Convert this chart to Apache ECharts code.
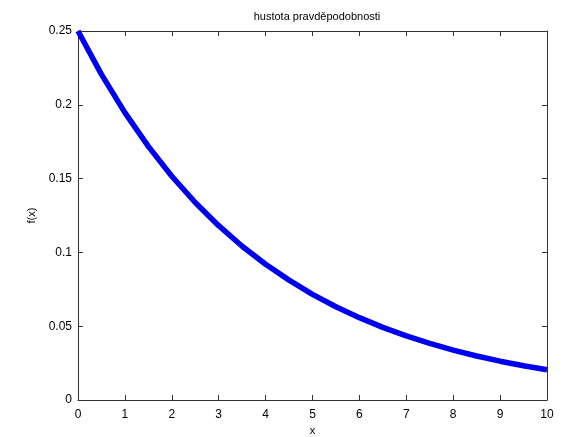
<!DOCTYPE html>
<html><head><meta charset="utf-8">
<script src="https://cdn.jsdelivr.net/npm/echarts@6/dist/echarts.min.js"></script>
<style>html,body{margin:0;padding:0;background:#fff}#c{width:562px;height:437px}</style>
</head><body><div id="c"></div>
<script>
var xValues = [0, 0.5, 1, 1.5, 2, 2.5, 3, 3.5, 4, 4.5, 5, 5.5, 6, 6.5, 7, 7.5, 8, 8.5, 9, 9.5, 10];
var fValues = [0.250, 0.2206, 0.1947, 0.1718, 0.1516, 0.1338, 0.1181, 0.1042, 0.0920, 0.0812, 0.0716, 0.0632, 0.0558, 0.0492, 0.0434, 0.0383, 0.0338, 0.0298, 0.0263, 0.0232, 0.0205];
var titleText = 'hustota pravděpodobnosti';
var xName = 'x', yName = 'f(x)';

var chart = echarts.init(document.getElementById('c'), null, {renderer: 'canvas'});
var font = 'Liberation Sans';
var axisLine = {show: true, onZero: false, lineStyle: {color: '#333', width: 1}};
var axisTick = {show: true, inside: true, length: 5, lineStyle: {color: '#333'}};
chart.setOption({
  animation: false,
  backgroundColor: '#fff',
  title: {text: titleText, left: 312, top: 6, textAlign: 'center',
    textStyle: {fontFamily: font, fontSize: 11, fontWeight: 'normal', color: '#000'}},
  grid: {left: 78, right: 15, top: 31, bottom: 37, containLabel: false, outerBoundsMode: 'none'},
  xAxis: [
    {type: 'value', min: 0, max: 10, interval: 1, position: 'bottom',
     name: xName, nameLocation: 'middle', nameGap: 25,
     nameTextStyle: {fontFamily: font, fontSize: 11, color: '#000'},
     axisLine: axisLine, axisTick: axisTick, splitLine: {show: false},
     axisLabel: {fontFamily: font, fontSize: 12, color: '#000', margin: 9}},
    {type: 'value', min: 0, max: 10, interval: 1, position: 'top',
     axisLine: axisLine, axisTick: axisTick, splitLine: {show: false}, axisLabel: {show: false}}
  ],
  yAxis: [
    {type: 'value', min: 0, max: 0.25, interval: 0.05, position: 'left',
     name: yName, nameLocation: 'middle', nameGap: 40, nameRotate: 90,
     nameTextStyle: {fontFamily: font, fontSize: 11, color: '#000'},
     axisLine: axisLine, axisTick: axisTick, splitLine: {show: false},
     axisLabel: {fontFamily: font, fontSize: 12, color: '#000', margin: 6}},
    {type: 'value', min: 0, max: 0.25, interval: 0.05, position: 'right',
     axisLine: axisLine, axisTick: axisTick, splitLine: {show: false}, axisLabel: {show: false}}
  ],
  series: [{
    type: 'line', data: xValues.map(function(x, i){ return [x, fValues[i]]; }),
    smooth: false, showSymbol: false, clip: true,
    lineStyle: {color: '#0000f0', width: 5.5, join: 'round'}
  }]
});
</script></body></html>
